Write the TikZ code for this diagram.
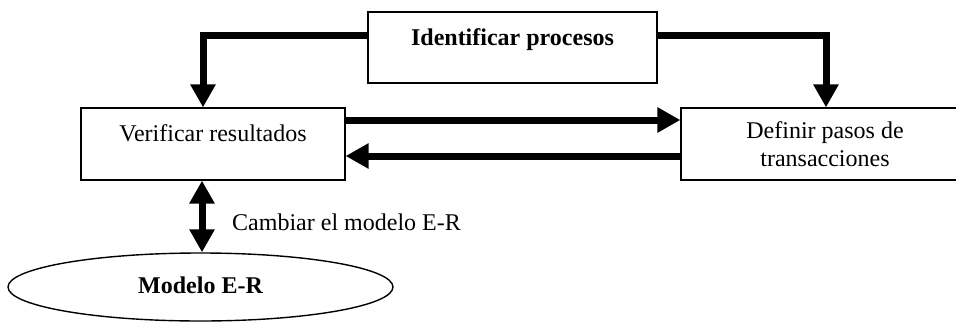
\documentclass[tikz,border=0pt]{standalone}
\usepackage{fontspec}
\setmainfont{Liberation Serif}
\usetikzlibrary{arrows.meta,shapes.geometric}
\begin{document}
\begin{tikzpicture}[x=1pt,y=-1pt,
  every node/.style={font=\fontsize{24}{27.5}\selectfont},
  box/.style={draw=black,line width=1.2pt,rectangle,inner sep=0pt,text height=15pt,text depth=20pt},
  conn/.style={line width=7pt,line join=miter,-{Triangle[width=24pt,length=23pt]}},
  dconn/.style={line width=7pt,{Triangle[width=24pt,length=23pt]}-{Triangle[width=24pt,length=23pt]}}]
\clip (0,0) rectangle (956,322);
\fill[white] (0,0) rectangle (956,322);
\node[box,minimum width=289pt,minimum height=71pt,font=\fontsize{24}{27.5}\selectfont\bfseries] (ident) at (512.5,47.5) {Identificar procesos};
\node[box,minimum width=264pt,minimum height=72pt] (verif) at (213,144) {Verificar resultados};
\node[draw=black,line width=1.2pt,rectangle,inner sep=0pt,minimum width=288pt,minimum height=72pt,align=center] (def) at (825,144) {Definir pasos de\\transacciones};
\node[draw=black,line width=1.4pt,ellipse,inner sep=0pt,minimum width=385pt,minimum height=68pt,text height=14pt,text depth=2pt,font=\fontsize{24}{27.5}\selectfont\bfseries] (er) at (200.5,287) {Modelo E-R};
\node[anchor=west,inner sep=0pt] (cam) at (232,222) {Cambiar el modelo E-R};
\coordinate (ytop) at (0,35);
\coordinate (xl) at (203,0);
\coordinate (xr) at (826,0);
\coordinate (yfw) at (0,120);
\coordinate (ybk) at (0,156);
\coordinate (xd) at (202,0);
\draw[conn] (ident.west |- ytop) -| (verif.north -| xl);
\draw[conn] (ident.east |- ytop) -| (def.north -| xr);
\draw[conn] (verif.east |- yfw) -- (def.west |- yfw);
\draw[conn] (def.west |- ybk) -- (verif.east |- ybk);
\draw[dconn] (verif.south -| xd) -- (er.north -| xd);
\end{tikzpicture}
\end{document}
